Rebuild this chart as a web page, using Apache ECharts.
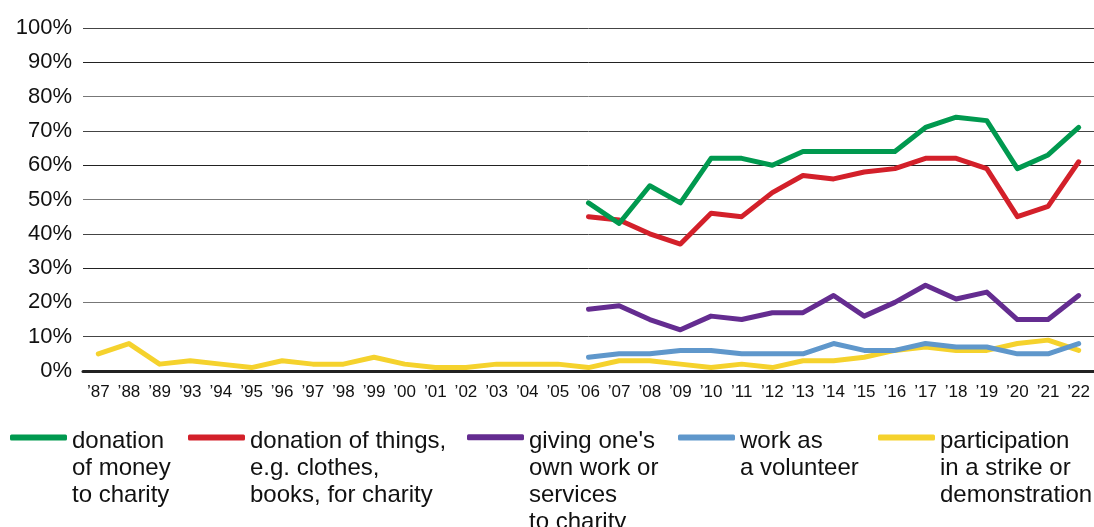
<!DOCTYPE html>
<html>
<head>
<meta charset="utf-8">
<script src="https://cdn.jsdelivr.net/npm/echarts@6/dist/echarts.min.js"></script>
<style>html,body{margin:0;padding:0;background:#fff}#c{width:1094px;height:527px}</style>
</head>
<body>
<div id="c"></div>
<script>
const years = ["’87","’88","’89","’93","’94","’95","’96","’97","’98","’99","’00","’01","’02","’03","’04","’05","’06","’07","’08","’09","’10","’11","’12","’13","’14","’15","’16","’17","’18","’19","’20","’21","’22"];
const yTicks = [0,10,20,30,40,50,60,70,80,90,100];
const pre = new Array(16).fill(null);
const money     = pre.concat([49,43,54,49,62,62,60,64,64,64,64,71,74,73,59,63,71]);
const things    = pre.concat([45,44,40,37,46,45,52,57,56,58,59,62,62,59,45,48,61]);
const ownWork   = pre.concat([18,19,15,12,16,15,17,17,22,16,20,25,21,23,15,15,22]);
const volunteer = pre.concat([4,5,5,6,6,5,5,5,8,6,6,8,7,7,5,5,8]);
const strike    = [5,8,2,3,2,1,3,2,2,4,2,1,1,2,2,2,1,3,3,2,1,2,1,3,3,4,6,7,6,6,8,9,6];

const names = ["donation of money to charity","donation of things, e.g. clothes, books, for charity","giving one's own work or services to charity","work as a volunteer","participation in a strike or demonstration"];
const legendLines = [
  ["donation","of money","to charity"],
  ["donation of things,","e.g. clothes,","books, for charity"],
  ["giving one's","own work or","services","to charity"],
  ["work as","a volunteer"],
  ["participation","in a strike or","demonstration"]
];
const colors = ["#00994f","#d3202a","#642c90","#5f97cb","#f5d22d"];
const dataSets = [money, things, ownWork, volunteer, strike];

const legendX = [10,188,467,678,878];
const LH = 27, FS = 24, ICON_Y = 436, TEXT_DROP = 4;
const legendFix = [5,5,4,7,5];
const legends = names.map((n,i)=>{
  const lines = legendLines[i];
  const k = lines.length;
  const LB = LH + 2*TEXT_DROP/(k-1);
  const label = new Array(k-1).fill("{b| }").concat(lines.map(s=>"{t|"+s+"}")).join("\n");
  const H = (k-1)*LB + k*LH;
  return {
    data:[n], left: legendX[i], top: ICON_Y - H/2 + legendFix[i], padding:0,
    icon:'roundRect', itemWidth:57, itemHeight:6, itemGap:5,
    formatter: ()=>label,
    textStyle:{
      fontFamily:'Liberation Sans, Arial, sans-serif', fontSize:FS, color:'#111',
      rich:{
        b:{fontSize:FS, lineHeight:LB, fontFamily:'Liberation Sans, Arial, sans-serif'},
        t:{fontSize:FS, lineHeight:LH, color:'#111', fontFamily:'Liberation Sans, Arial, sans-serif'}
      }
    },
    selectedMode:false
  };
});

const chart = echarts.init(document.getElementById('c'), null, {renderer:'canvas'});
chart.setOption({
  animation:false,
  color: colors,
  grid:{left:83, right:0, top:28, bottom:156, containLabel:false},
  legend: legends,
  xAxis:{
    type:'category', data: years, boundaryGap:true,
    axisLine:{lineStyle:{color:'#222', width:3}},
    axisTick:{show:false},
    axisLabel:{interval:0, fontFamily:'Liberation Sans, Arial, sans-serif', fontSize:17, color:'#111', margin:13}
  },
  yAxis:{
    type:'value', min:yTicks[0], max:yTicks[yTicks.length-1], interval:10,
    axisLine:{show:false}, axisTick:{show:false},
    axisLabel:{formatter:'{value}%', fontFamily:'Liberation Sans, Arial, sans-serif', fontSize:22, color:'#111', margin:11},
    splitLine:{lineStyle:{color:['#222','#444','#777'], width:1}}
  },
  series: names.map((n,i)=>({
    name:n, type:'line', data:dataSets[i], symbol:'none', connectNulls:false,
    lineStyle:{width:5, color:colors[i], join:'round', cap:'round'},
    itemStyle:{color:colors[i]}, z: 10-i
  }))
});
</script>
</body>
</html>
